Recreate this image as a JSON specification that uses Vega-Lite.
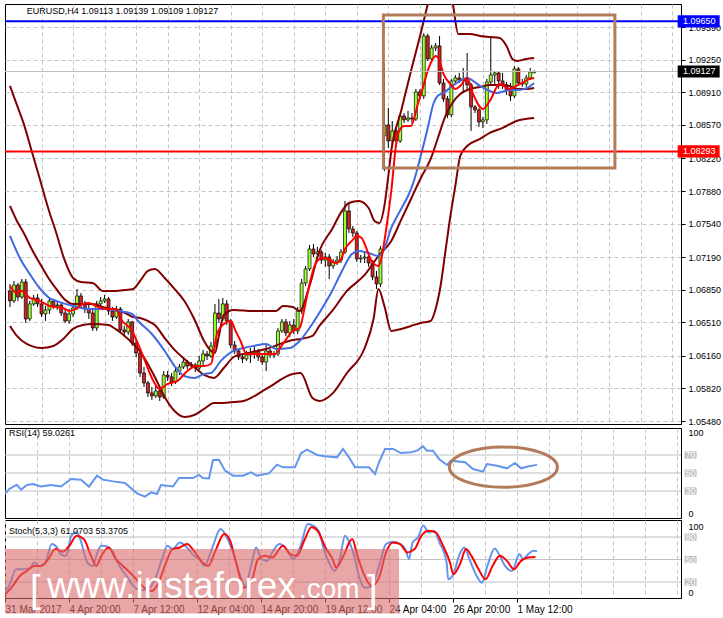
{
"$schema": "https://vega.github.io/schema/vega-lite/v6.json",
"background": "white",
"padding": {"left": 3, "top": 3, "right": 0, "bottom": 0},
"autosize": {"type": "pad"},
"spacing": 0,
"config": {"view": {"stroke": "black", "strokeWidth": 1}, "font": "Liberation Sans", "axis": {"labelFont": "Liberation Sans", "labelColor": "black", "domainColor": "black", "tickColor": "black", "gridColor": "#C4C4C4", "gridDash": [4, 3], "labelOverlap": false}},
"datasets": {
"candles": [
{"i":0,"o":1.06837,"h":1.06910,"l":1.06670,"c":1.06733},
{"i":1,"o":1.06733,"h":1.06941,"l":1.06712,"c":1.06899},
{"i":2,"o":1.06899,"h":1.06920,"l":1.06733,"c":1.06774},
{"i":3,"o":1.06774,"h":1.06962,"l":1.06754,"c":1.06931},
{"i":4,"o":1.06931,"h":1.06962,"l":1.06503,"c":1.06545},
{"i":5,"o":1.06545,"h":1.06733,"l":1.06524,"c":1.06702},
{"i":6,"o":1.06702,"h":1.06795,"l":1.06681,"c":1.06764},
{"i":7,"o":1.06764,"h":1.06806,"l":1.06670,"c":1.06702},
{"i":8,"o":1.06702,"h":1.06754,"l":1.06565,"c":1.06597},
{"i":9,"o":1.06597,"h":1.06681,"l":1.06524,"c":1.06639},
{"i":10,"o":1.06639,"h":1.06774,"l":1.06597,"c":1.06733},
{"i":11,"o":1.06733,"h":1.06743,"l":1.06649,"c":1.06681},
{"i":12,"o":1.06681,"h":1.06722,"l":1.06639,"c":1.06691},
{"i":13,"o":1.06691,"h":1.06712,"l":1.06576,"c":1.06607},
{"i":14,"o":1.06607,"h":1.06639,"l":1.06503,"c":1.06524},
{"i":15,"o":1.06524,"h":1.06649,"l":1.06493,"c":1.06597},
{"i":16,"o":1.06597,"h":1.06702,"l":1.06565,"c":1.06660},
{"i":17,"o":1.06660,"h":1.06858,"l":1.06639,"c":1.06785},
{"i":18,"o":1.06785,"h":1.06816,"l":1.06670,"c":1.06702},
{"i":19,"o":1.06702,"h":1.06733,"l":1.06607,"c":1.06649},
{"i":20,"o":1.06649,"h":1.06691,"l":1.06545,"c":1.06607},
{"i":21,"o":1.06607,"h":1.06649,"l":1.06420,"c":1.06451},
{"i":22,"o":1.06451,"h":1.06733,"l":1.06420,"c":1.06702},
{"i":23,"o":1.06702,"h":1.06774,"l":1.06670,"c":1.06733},
{"i":24,"o":1.06733,"h":1.06795,"l":1.06712,"c":1.06754},
{"i":25,"o":1.06754,"h":1.06774,"l":1.06587,"c":1.06628},
{"i":26,"o":1.06628,"h":1.06670,"l":1.06524,"c":1.06565},
{"i":27,"o":1.06565,"h":1.06681,"l":1.06545,"c":1.06649},
{"i":28,"o":1.06649,"h":1.06670,"l":1.06399,"c":1.06430},
{"i":29,"o":1.06430,"h":1.06472,"l":1.06357,"c":1.06409},
{"i":30,"o":1.06409,"h":1.06545,"l":1.06378,"c":1.06514},
{"i":31,"o":1.06514,"h":1.06524,"l":1.06263,"c":1.06294},
{"i":32,"o":1.06294,"h":1.06336,"l":1.06148,"c":1.06190},
{"i":33,"o":1.06190,"h":1.06232,"l":1.05940,"c":1.05981},
{"i":34,"o":1.05981,"h":1.06044,"l":1.05835,"c":1.05877},
{"i":35,"o":1.05877,"h":1.05898,"l":1.05731,"c":1.05773},
{"i":36,"o":1.05773,"h":1.05835,"l":1.05700,"c":1.05742},
{"i":37,"o":1.05742,"h":1.05846,"l":1.05721,"c":1.05794},
{"i":38,"o":1.05794,"h":1.05846,"l":1.05689,"c":1.05731},
{"i":39,"o":1.05731,"h":1.06002,"l":1.05710,"c":1.05960},
{"i":40,"o":1.05960,"h":1.06002,"l":1.05898,"c":1.05940},
{"i":41,"o":1.05940,"h":1.05981,"l":1.05846,"c":1.05887},
{"i":42,"o":1.05887,"h":1.06044,"l":1.05867,"c":1.06002},
{"i":43,"o":1.06002,"h":1.06075,"l":1.05960,"c":1.06044},
{"i":44,"o":1.06044,"h":1.06148,"l":1.06023,"c":1.06096},
{"i":45,"o":1.06096,"h":1.06117,"l":1.06023,"c":1.06054},
{"i":46,"o":1.06054,"h":1.06096,"l":1.06033,"c":1.06065},
{"i":47,"o":1.06065,"h":1.06086,"l":1.05992,"c":1.06033},
{"i":48,"o":1.06033,"h":1.06159,"l":1.06013,"c":1.06107},
{"i":49,"o":1.06107,"h":1.06222,"l":1.06065,"c":1.06180},
{"i":50,"o":1.06180,"h":1.06211,"l":1.06117,"c":1.06159},
{"i":51,"o":1.06159,"h":1.06305,"l":1.06138,"c":1.06263},
{"i":52,"o":1.06263,"h":1.06702,"l":1.06242,"c":1.06607},
{"i":53,"o":1.06607,"h":1.06754,"l":1.06503,"c":1.06545},
{"i":54,"o":1.06545,"h":1.06764,"l":1.06524,"c":1.06702},
{"i":55,"o":1.06702,"h":1.06743,"l":1.06482,"c":1.06524},
{"i":56,"o":1.06524,"h":1.06545,"l":1.06242,"c":1.06273},
{"i":57,"o":1.06273,"h":1.06315,"l":1.06180,"c":1.06211},
{"i":58,"o":1.06211,"h":1.06232,"l":1.06117,"c":1.06148},
{"i":59,"o":1.06148,"h":1.06190,"l":1.06086,"c":1.06128},
{"i":60,"o":1.06128,"h":1.06211,"l":1.06107,"c":1.06169},
{"i":61,"o":1.06169,"h":1.06242,"l":1.06086,"c":1.06190},
{"i":62,"o":1.06190,"h":1.06263,"l":1.06128,"c":1.06211},
{"i":63,"o":1.06211,"h":1.06232,"l":1.06107,"c":1.06148},
{"i":64,"o":1.06148,"h":1.06180,"l":1.06065,"c":1.06096},
{"i":65,"o":1.06096,"h":1.06284,"l":1.06002,"c":1.06211},
{"i":66,"o":1.06211,"h":1.06232,"l":1.06138,"c":1.06169},
{"i":67,"o":1.06169,"h":1.06211,"l":1.06138,"c":1.06180},
{"i":68,"o":1.06180,"h":1.06451,"l":1.06159,"c":1.06420},
{"i":69,"o":1.06420,"h":1.06545,"l":1.06399,"c":1.06514},
{"i":70,"o":1.06514,"h":1.06545,"l":1.06368,"c":1.06399},
{"i":71,"o":1.06399,"h":1.06524,"l":1.06357,"c":1.06482},
{"i":72,"o":1.06482,"h":1.06545,"l":1.06388,"c":1.06420},
{"i":73,"o":1.06420,"h":1.06670,"l":1.06388,"c":1.06628},
{"i":74,"o":1.06628,"h":1.06962,"l":1.06597,"c":1.06920},
{"i":75,"o":1.06920,"h":1.07098,"l":1.06889,"c":1.07067},
{"i":76,"o":1.07067,"h":1.07317,"l":1.07046,"c":1.07275},
{"i":77,"o":1.07275,"h":1.07327,"l":1.07192,"c":1.07223},
{"i":78,"o":1.07223,"h":1.07296,"l":1.07171,"c":1.07244},
{"i":79,"o":1.07244,"h":1.07265,"l":1.07119,"c":1.07160},
{"i":80,"o":1.07160,"h":1.07233,"l":1.07088,"c":1.07192},
{"i":81,"o":1.07192,"h":1.07223,"l":1.06962,"c":1.07098},
{"i":82,"o":1.07098,"h":1.07171,"l":1.07067,"c":1.07140},
{"i":83,"o":1.07140,"h":1.07202,"l":1.07108,"c":1.07160},
{"i":84,"o":1.07160,"h":1.07275,"l":1.07129,"c":1.07244},
{"i":85,"o":1.07244,"h":1.07776,"l":1.07223,"c":1.07672},
{"i":86,"o":1.07672,"h":1.07745,"l":1.07442,"c":1.07484},
{"i":87,"o":1.07484,"h":1.07515,"l":1.07400,"c":1.07442},
{"i":88,"o":1.07442,"h":1.07463,"l":1.07140,"c":1.07171},
{"i":89,"o":1.07171,"h":1.07213,"l":1.07129,"c":1.07181},
{"i":90,"o":1.07181,"h":1.07254,"l":1.07129,"c":1.07192},
{"i":91,"o":1.07192,"h":1.07233,"l":1.07088,"c":1.07129},
{"i":92,"o":1.07129,"h":1.07160,"l":1.06952,"c":1.06983},
{"i":93,"o":1.06983,"h":1.07046,"l":1.06858,"c":1.06910},
{"i":94,"o":1.06910,"h":1.07306,"l":1.06879,"c":1.07275},
{"i":95,"o":1.08455,"h":1.09206,"l":1.08089,"c":1.08569},
{"i":96,"o":1.08569,"h":1.08747,"l":1.08329,"c":1.08402},
{"i":97,"o":1.08402,"h":1.08611,"l":1.08340,"c":1.08507},
{"i":98,"o":1.08507,"h":1.08548,"l":1.08371,"c":1.08402},
{"i":99,"o":1.08402,"h":1.08684,"l":1.08381,"c":1.08663},
{"i":100,"o":1.08663,"h":1.08694,"l":1.08590,"c":1.08622},
{"i":101,"o":1.08622,"h":1.08715,"l":1.08601,"c":1.08642},
{"i":102,"o":1.08642,"h":1.08694,"l":1.08590,"c":1.08632},
{"i":103,"o":1.08632,"h":1.08945,"l":1.08611,"c":1.08914},
{"i":104,"o":1.08914,"h":1.08945,"l":1.08841,"c":1.08872},
{"i":105,"o":1.08872,"h":1.09529,"l":1.08841,"c":1.09498},
{"i":106,"o":1.09498,"h":1.09519,"l":1.09237,"c":1.09258},
{"i":107,"o":1.09258,"h":1.09404,"l":1.09216,"c":1.09373},
{"i":108,"o":1.09373,"h":1.09425,"l":1.09341,"c":1.09394},
{"i":109,"o":1.09394,"h":1.09498,"l":1.08987,"c":1.09007},
{"i":110,"o":1.09007,"h":1.09049,"l":1.08809,"c":1.08841},
{"i":111,"o":1.08841,"h":1.08872,"l":1.08642,"c":1.08674},
{"i":112,"o":1.08674,"h":1.09049,"l":1.08653,"c":1.09028},
{"i":113,"o":1.09028,"h":1.09091,"l":1.08997,"c":1.09060},
{"i":114,"o":1.09060,"h":1.09112,"l":1.09008,"c":1.09039},
{"i":115,"o":1.09039,"h":1.09164,"l":1.08903,"c":1.09049},
{"i":116,"o":1.09049,"h":1.09320,"l":1.08924,"c":1.08987},
{"i":117,"o":1.08987,"h":1.09008,"l":1.08507,"c":1.08757},
{"i":118,"o":1.08757,"h":1.08778,"l":1.08694,"c":1.08726},
{"i":119,"o":1.08726,"h":1.08747,"l":1.08548,"c":1.08601},
{"i":120,"o":1.08601,"h":1.08653,"l":1.08538,"c":1.08622},
{"i":121,"o":1.08622,"h":1.09049,"l":1.08580,"c":1.09018},
{"i":122,"o":1.09018,"h":1.09477,"l":1.08987,"c":1.09091},
{"i":123,"o":1.09091,"h":1.09133,"l":1.08976,"c":1.09112},
{"i":124,"o":1.09112,"h":1.09133,"l":1.08945,"c":1.09028},
{"i":125,"o":1.09028,"h":1.09112,"l":1.08945,"c":1.08987},
{"i":126,"o":1.08987,"h":1.09018,"l":1.08883,"c":1.08934},
{"i":127,"o":1.08934,"h":1.09008,"l":1.08820,"c":1.08872},
{"i":128,"o":1.08872,"h":1.09185,"l":1.08851,"c":1.09154},
{"i":129,"o":1.09154,"h":1.09174,"l":1.08976,"c":1.09008},
{"i":130,"o":1.09008,"h":1.09049,"l":1.08966,"c":1.08997},
{"i":131,"o":1.08997,"h":1.09091,"l":1.08966,"c":1.09060},
{"i":132,"o":1.09060,"h":1.09164,"l":1.09039,"c":1.09122},
{"i":133,"o":1.09113,"h":1.09139,"l":1.09109,"c":1.09127}
],
"ub": [
{"i":0,"v":1.08976},{"i":1.75,"v":1.08778},{"i":3.5,"v":1.0858},{"i":5.5,"v":1.08298},{"i":7.5,"v":1.08016},{"i":9.75,"v":1.07693},{"i":11.75,"v":1.07442},{"i":13.75,"v":1.07171},{"i":16,"v":1.06973},{"i":18,"v":1.06931},{"i":21,"v":1.0692},{"i":23.5,"v":1.06837},{"i":26.75,"v":1.06837},{"i":29.25,"v":1.06847},{"i":31.25,"v":1.06858},{"i":33,"v":1.06941},{"i":35,"v":1.07046},{"i":36.75,"v":1.07067},{"i":39.25,"v":1.06973},{"i":41.75,"v":1.06858},{"i":44.25,"v":1.06733},{"i":46.75,"v":1.06545},{"i":49.25,"v":1.06315},{"i":51,"v":1.06211},{"i":52,"v":1.0619},{"i":53,"v":1.06368},{"i":54.25,"v":1.06587},{"i":56.75,"v":1.06639},{"i":61.75,"v":1.06628},{"i":67.5,"v":1.06628},{"i":69.25,"v":1.06681},{"i":71.75,"v":1.0667},{"i":73.5,"v":1.06628},{"i":76,"v":1.06889},{"i":78.5,"v":1.07254},{"i":81.75,"v":1.07484},{"i":84.25,"v":1.07672},{"i":86,"v":1.07755},{"i":88.5,"v":1.07776},{"i":91,"v":1.07703},{"i":92.5,"v":1.07567},{"i":93.75,"v":1.07546},{"i":95,"v":1.07724},{"i":96,"v":1.08037},{"i":96.75,"v":1.08298},{"i":99.25,"v":1.08715},{"i":101.75,"v":1.09133},{"i":104.25,"v":1.09529},{"i":106.25,"v":1.09863},{"i":108,"v":1.10072},{"i":110.5,"v":1.10093},{"i":112.25,"v":1.09863},{"i":113.75,"v":1.09519},{"i":116.75,"v":1.09519},{"i":119.25,"v":1.09498},{"i":121.75,"v":1.09487},{"i":124.25,"v":1.09477},{"i":126,"v":1.09393},{"i":127.5,"v":1.09258},{"i":128.75,"v":1.09237},{"i":131,"v":1.09258},{"i":133,"v":1.09268}
],
"lb": [
{"i":0,"v":1.06472},{"i":1.75,"v":1.06368},{"i":4.25,"v":1.06284},{"i":8,"v":1.06242},{"i":11,"v":1.06263},{"i":13.5,"v":1.06336},{"i":16,"v":1.06441},{"i":18.5,"v":1.06482},{"i":21,"v":1.06493},{"i":25,"v":1.06482},{"i":26.75,"v":1.06441},{"i":28.5,"v":1.06388},{"i":30.5,"v":1.06315},{"i":32.5,"v":1.06232},{"i":34.25,"v":1.06128},{"i":36.75,"v":1.0594},{"i":39.25,"v":1.05731},{"i":41.75,"v":1.05585},{"i":44.25,"v":1.05523},{"i":46.75,"v":1.05543},{"i":49.25,"v":1.05606},{"i":51.75,"v":1.05669},{"i":54.25,"v":1.05669},{"i":56.75,"v":1.05679},{"i":59.25,"v":1.05689},{"i":65,"v":1.05815},{"i":71.75,"v":1.05971},{"i":73.75,"v":1.05981},{"i":76.75,"v":1.05721},{"i":78.5,"v":1.05689},{"i":81.75,"v":1.05763},{"i":85.5,"v":1.05981},{"i":90,"v":1.06242},{"i":92.25,"v":1.06545},{"i":93.5,"v":1.06858},{"i":95,"v":1.06681},{"i":96.75,"v":1.0642},{"i":99.25,"v":1.06441},{"i":101.75,"v":1.06472},{"i":104.25,"v":1.06503},{"i":106.75,"v":1.06524},{"i":108,"v":1.06649},{"i":109.25,"v":1.06889},{"i":110.5,"v":1.07254},{"i":111.75,"v":1.07619},{"i":113,"v":1.07932},{"i":114.25,"v":1.08245},{"i":116,"v":1.0835},{"i":119.25,"v":1.08423},{"i":121.75,"v":1.08486},{"i":125,"v":1.08538},{"i":128.5,"v":1.08611},{"i":133,"v":1.08642}
],
"mb": [
{"i":0,"v":1.07724},{"i":1.75,"v":1.07567},{"i":3.5,"v":1.07442},{"i":5.5,"v":1.07275},{"i":7.5,"v":1.07129},{"i":9.75,"v":1.06973},{"i":11.75,"v":1.06858},{"i":13.75,"v":1.06754},{"i":16,"v":1.06702},{"i":21,"v":1.06702},{"i":23.5,"v":1.0667},{"i":26.75,"v":1.06639},{"i":29.25,"v":1.06607},{"i":31.25,"v":1.06565},{"i":33,"v":1.06555},{"i":35,"v":1.06524},{"i":36.75,"v":1.06482},{"i":39.25,"v":1.06346},{"i":41.75,"v":1.06222},{"i":44.25,"v":1.06128},{"i":46.75,"v":1.06044},{"i":49.25,"v":1.05961},{"i":51.75,"v":1.0593},{"i":54.25,"v":1.06033},{"i":56.75,"v":1.06148},{"i":59.25,"v":1.0618},{"i":65,"v":1.06232},{"i":71.75,"v":1.06326},{"i":73.75,"v":1.06336},{"i":76.75,"v":1.06368},{"i":78.5,"v":1.06472},{"i":81.75,"v":1.06628},{"i":85.5,"v":1.06837},{"i":90,"v":1.07004},{"i":93.5,"v":1.07202},{"i":96.75,"v":1.07359},{"i":99.25,"v":1.07578},{"i":101.75,"v":1.07797},{"i":104.25,"v":1.08016},{"i":106.75,"v":1.08214},{"i":108.5,"v":1.08423},{"i":110.5,"v":1.08663},{"i":112.25,"v":1.08799},{"i":114.25,"v":1.08893},{"i":116.75,"v":1.08945},{"i":119.25,"v":1.08966},{"i":121.75,"v":1.08987},{"i":124.25,"v":1.08987},{"i":126.75,"v":1.08976},{"i":128.5,"v":1.08945},{"i":131,"v":1.08945},{"i":133,"v":1.08955}
],
"ma": [
{"i":0,"v":1.07411},{"i":2.5,"v":1.07181},{"i":5,"v":1.07015},{"i":7.5,"v":1.06868},{"i":10,"v":1.06764},{"i":11.75,"v":1.06733},{"i":16,"v":1.06681},{"i":20,"v":1.06649},{"i":24.25,"v":1.06649},{"i":27.5,"v":1.06628},{"i":31,"v":1.06597},{"i":32.5,"v":1.06524},{"i":36,"v":1.06388},{"i":39.25,"v":1.06211},{"i":41.75,"v":1.06054},{"i":44.25,"v":1.0595},{"i":46.75,"v":1.05929},{"i":49.25,"v":1.05971},{"i":51,"v":1.05981},{"i":53.5,"v":1.06107},{"i":56.75,"v":1.06211},{"i":59.25,"v":1.06242},{"i":61.75,"v":1.06263},{"i":65,"v":1.06284},{"i":67.5,"v":1.06232},{"i":71,"v":1.06242},{"i":73.5,"v":1.06315},{"i":76,"v":1.06451},{"i":79.25,"v":1.0666},{"i":81.75,"v":1.06837},{"i":84.25,"v":1.07046},{"i":86.75,"v":1.07223},{"i":88.5,"v":1.07254},{"i":91,"v":1.07233},{"i":93.5,"v":1.07202},{"i":94.75,"v":1.07254},{"i":96.75,"v":1.07494},{"i":99.25,"v":1.07693},{"i":101,"v":1.07828},{"i":102.5,"v":1.07985},{"i":104.25,"v":1.0825},{"i":106,"v":1.08538},{"i":107.5,"v":1.08798},{"i":108.5,"v":1.08872},{"i":110,"v":1.08903},{"i":112.25,"v":1.08976},{"i":114.25,"v":1.09028},{"i":116,"v":1.0906},{"i":116.75,"v":1.09049},{"i":119.25,"v":1.08976},{"i":121.75,"v":1.08924},{"i":123.5,"v":1.08903},{"i":126.75,"v":1.08934},{"i":129.25,"v":1.08934},{"i":131.25,"v":1.08955},{"i":133,"v":1.09007}
],
"mr": [
{"i":0,"v":1.06889},{"i":1.75,"v":1.06816},{"i":3,"v":1.06837},{"i":5,"v":1.06764},{"i":7.5,"v":1.06733},{"i":10,"v":1.06681},{"i":13.5,"v":1.0666},{"i":15,"v":1.06628},{"i":16.75,"v":1.06649},{"i":18.5,"v":1.06702},{"i":20,"v":1.06712},{"i":21.75,"v":1.06681},{"i":24.25,"v":1.06649},{"i":26.75,"v":1.06649},{"i":28.5,"v":1.06524},{"i":31,"v":1.0642},{"i":32.5,"v":1.06284},{"i":34.25,"v":1.06107},{"i":36,"v":1.05929},{"i":38,"v":1.05815},{"i":40,"v":1.05867},{"i":42.5,"v":1.05898},{"i":45,"v":1.06002},{"i":47.25,"v":1.06054},{"i":49.25,"v":1.06054},{"i":51,"v":1.06075},{"i":52.5,"v":1.06388},{"i":54.25,"v":1.06493},{"i":56,"v":1.06524},{"i":57.25,"v":1.0642},{"i":58.5,"v":1.06315},{"i":60,"v":1.0618},{"i":65,"v":1.0618},{"i":67.25,"v":1.0618},{"i":69.25,"v":1.06284},{"i":71.75,"v":1.0642},{"i":73.5,"v":1.06451},{"i":74.75,"v":1.0666},{"i":76,"v":1.0691},{"i":77.5,"v":1.07119},{"i":79.25,"v":1.07181},{"i":81,"v":1.07171},{"i":82.5,"v":1.07129},{"i":83.75,"v":1.0715},{"i":85,"v":1.07275},{"i":86.75,"v":1.07359},{"i":88,"v":1.07411},{"i":89.25,"v":1.0739},{"i":90,"v":1.07327},{"i":91.75,"v":1.0715},{"i":93.5,"v":1.07098},{"i":94.25,"v":1.07181},{"i":95.5,"v":1.07494},{"i":96.75,"v":1.0788},{"i":98,"v":1.08371},{"i":98.75,"v":1.08507},{"i":100,"v":1.08559},{"i":101.75,"v":1.08559},{"i":103.5,"v":1.08788},{"i":104.75,"v":1.08955},{"i":106.25,"v":1.09164},{"i":108,"v":1.09289},{"i":108.75,"v":1.09268},{"i":110,"v":1.09101},{"i":111.75,"v":1.08997},{"i":113,"v":1.08945},{"i":114.25,"v":1.08976},{"i":116,"v":1.0906},{"i":117.5,"v":1.08893},{"i":120,"v":1.08736},{"i":121.75,"v":1.0882},{"i":124.25,"v":1.08997},{"i":126.75,"v":1.08945},{"i":128.5,"v":1.08976},{"i":130,"v":1.09007},{"i":131.75,"v":1.09049},{"i":133,"v":1.0906}
],
"rsi": [
{"i":0,"v":26.7},{"i":1,"v":32},{"i":2.5,"v":36},{"i":3,"v":36.7},{"i":4,"v":31.5},{"i":5.5,"v":36.7},{"i":7,"v":37.8},{"i":9,"v":35},{"i":11.5,"v":36.7},{"i":14,"v":35},{"i":16.5,"v":43.3},{"i":19,"v":42.6},{"i":21,"v":34.8},{"i":23,"v":47},{"i":24.5,"v":42.6},{"i":27,"v":40.7},{"i":30,"v":38.9},{"i":33,"v":27.4},{"i":35,"v":23.7},{"i":36.5,"v":28.5},{"i":38,"v":26.7},{"i":39,"v":36.7},{"i":42,"v":35},{"i":43.5,"v":44.4},{"i":47,"v":44.4},{"i":48.5,"v":47.8},{"i":49.5,"v":44.4},{"i":51,"v":44},{"i":52,"v":64.4},{"i":53.5,"v":64.8},{"i":55,"v":52.6},{"i":57,"v":47},{"i":59.5,"v":47},{"i":61.5,"v":50.7},{"i":63,"v":47},{"i":66,"v":49.6},{"i":68,"v":59.3},{"i":69.5,"v":56.3},{"i":72.5,"v":56.3},{"i":74,"v":71.9},{"i":75.5,"v":76},{"i":78,"v":70},{"i":80,"v":68.5},{"i":83,"v":67.4},{"i":84.5,"v":76.7},{"i":86,"v":67.4},{"i":87.5,"v":56.3},{"i":91,"v":56.3},{"i":92.5,"v":48.9},{"i":93.5,"v":61.9},{"i":95,"v":76.7},{"i":97,"v":76.7},{"i":99,"v":72.2},{"i":101.5,"v":73},{"i":103,"v":74.8},{"i":104.5,"v":79.6},{"i":105.5,"v":74.8},{"i":107,"v":74.8},{"i":108.5,"v":65.6},{"i":110.5,"v":58.9},{"i":111.5,"v":63.7},{"i":115,"v":61.9},{"i":117,"v":54.4},{"i":119.5,"v":51.5},{"i":120.5,"v":60},{"i":123,"v":58.1},{"i":125.5,"v":55.2},{"i":127.5,"v":61.1},{"i":129,"v":55.2},{"i":131,"v":57.4},{"i":133,"v":59.03}
],
"sk": [
{"i":0,"v":7.9},{"i":1,"v":14.6},{"i":2.8,"v":37},{"i":4.6,"v":37},{"i":6.4,"v":39.3},{"i":7.3,"v":46},{"i":8.6,"v":41.5},{"i":9.9,"v":43.7},{"i":11.7,"v":70.6},{"i":13,"v":66.1},{"i":13.9,"v":57.2},{"i":15.25,"v":54.9},{"i":16.6,"v":81.8},{"i":17.9,"v":86.3},{"i":18.8,"v":77.3},{"i":20.6,"v":46},{"i":21.9,"v":41.5},{"i":23.25,"v":61.6},{"i":24.1,"v":68.4},{"i":25.5,"v":67.5},{"i":26.8,"v":61.6},{"i":28.6,"v":41.5},{"i":30.4,"v":28.1},{"i":32.1,"v":14.6},{"i":33.9,"v":9.2},{"i":35.7,"v":10.1},{"i":37.5,"v":23.6},{"i":39.25,"v":50.4},{"i":40.6,"v":68.4},{"i":41.9,"v":63.9},{"i":43.7,"v":72.8},{"i":45.5,"v":66.1},{"i":47.25,"v":54.9},{"i":48.6,"v":50.4},{"i":49.9,"v":41.5},{"i":51.7,"v":63.9},{"i":53.9,"v":90.7},{"i":55.25,"v":81.8},{"i":57,"v":59.4},{"i":58.8,"v":28.1},{"i":60.1,"v":14.6},{"i":61.5,"v":41.5},{"i":62.8,"v":66.1},{"i":64.1,"v":50.4},{"i":65.5,"v":48.2},{"i":66.8,"v":59.4},{"i":68.6,"v":70.6},{"i":70.4,"v":63.9},{"i":72.1,"v":50.4},{"i":73.9,"v":68.4},{"i":75.7,"v":97.5},{"i":77,"v":95.2},{"i":78.4,"v":88.5},{"i":79.7,"v":63.9},{"i":81,"v":46},{"i":82.4,"v":34.8},{"i":83.7,"v":50.4},{"i":85,"v":81.8},{"i":85.9,"v":75.1},{"i":87.3,"v":54.9},{"i":88.6,"v":25.8},{"i":89.9,"v":12.4},{"i":91.7,"v":14.6},{"i":93.5,"v":41.5},{"i":95.25,"v":70.6},{"i":97,"v":73.7},{"i":98.8,"v":70.6},{"i":100.1,"v":63.9},{"i":101,"v":50.4},{"i":101.9,"v":72.8},{"i":103.25,"v":79.6},{"i":104.6,"v":95.2},{"i":105.9,"v":86.3},{"i":107.25,"v":88.5},{"i":108.6,"v":72.8},{"i":110.4,"v":46},{"i":110.8,"v":23.6},{"i":112.1,"v":30.3},{"i":113.5,"v":54.9},{"i":114.8,"v":66.1},{"i":116.1,"v":50.4},{"i":117.5,"v":32.5},{"i":119.25,"v":19.1},{"i":120.6,"v":41.5},{"i":122.4,"v":64.8},{"i":123.7,"v":54.9},{"i":125,"v":41.5},{"i":126.8,"v":34.8},{"i":128.6,"v":57.2},{"i":129.5,"v":50.4},{"i":130.8,"v":57.2},{"i":132.1,"v":61.6},{"i":133,"v":61.07}
],
"sd": [
{"i":0,"v":3.4},{"i":1.9,"v":14.6},{"i":3.7,"v":28.1},{"i":5.5,"v":34.8},{"i":7.25,"v":41.5},{"i":9,"v":41.5},{"i":10.8,"v":50.4},{"i":12.6,"v":63.9},{"i":14.4,"v":60.3},{"i":16.1,"v":68.4},{"i":17.9,"v":81.8},{"i":19.7,"v":77.3},{"i":21.5,"v":54.9},{"i":22.8,"v":41.5},{"i":24.1,"v":54.9},{"i":25.9,"v":66.1},{"i":27.7,"v":50.4},{"i":29.5,"v":41.5},{"i":32.1,"v":28.1},{"i":34.8,"v":12.4},{"i":36.6,"v":7.9},{"i":38.4,"v":19.1},{"i":40.1,"v":43.7},{"i":41.9,"v":63.9},{"i":43.7,"v":66.1},{"i":45.5,"v":70.6},{"i":47.25,"v":61.6},{"i":49,"v":48.2},{"i":50.8,"v":41.5},{"i":52.6,"v":61.6},{"i":54.8,"v":84},{"i":56.1,"v":77.3},{"i":57.9,"v":43.7},{"i":59.7,"v":12.4},{"i":61.5,"v":19.1},{"i":63.25,"v":50.4},{"i":65,"v":54.9},{"i":66.8,"v":52.7},{"i":69.5,"v":68.4},{"i":71.25,"v":57.2},{"i":73,"v":54.9},{"i":74.8,"v":75.1},{"i":76.6,"v":93},{"i":78.4,"v":86.3},{"i":80.1,"v":66.1},{"i":81.9,"v":50.4},{"i":82.8,"v":39.3},{"i":84.6,"v":54.9},{"i":86.8,"v":77.3},{"i":88.1,"v":54.9},{"i":89.9,"v":28.1},{"i":91.7,"v":14.6},{"i":93.5,"v":25.8},{"i":95.25,"v":59.4},{"i":97,"v":72.8},{"i":98.8,"v":70.6},{"i":100.6,"v":59.4},{"i":102.4,"v":63.9},{"i":104.1,"v":81.8},{"i":105.9,"v":88.5},{"i":107.7,"v":86.3},{"i":109.5,"v":68.4},{"i":111.25,"v":46},{"i":112.1,"v":30.3},{"i":113.9,"v":46},{"i":115.25,"v":63.9},{"i":116.6,"v":54.9},{"i":118.4,"v":37},{"i":120.1,"v":23.6},{"i":121.9,"v":41.5},{"i":123.7,"v":54.9},{"i":125.5,"v":48.2},{"i":127.25,"v":37},{"i":129,"v":48.2},{"i":130.8,"v":52.7},{"i":132.6,"v":53.37}
],
"rsilev": [{"lv": 70}, {"lv": 50}, {"lv": 30}],
"stlev": [{"lv": 80}, {"lv": 50}, {"lv": 20}],
"one": [{}]
},
"vconcat": [
{
"width": 676, "height": 420,
"layer": [
{"data": {"name": "candles"}, "mark": {"type": "rule", "color": "black", "strokeWidth": 1, "clip": true},
 "encoding": {
  "x": {"field": "i", "type": "quantitative", "title": null, "scale": {"domain": [0, 169], "nice": false, "zero": false},
        "axis": {"orient": "bottom", "values": [8,16,24,32,40,48,56,64,72,80,88,96,104,112,120,128,136,144,152,160,168], "tickCount": 40, "grid": true, "labels": false, "ticks": false, "domain": false}},
  "y": {"field": "l", "type": "quantitative", "title": null, "scale": {"domain": [1.054489, 1.098312], "nice": false, "zero": false},
        "axis": {"orient": "right", "values": [1.0959,1.0925,1.0891,1.0857,1.0822,1.0788,1.0754,1.0719,1.0685,1.0651,1.0616,1.0582,1.0548], "tickCount": 30, "format": ".5f", "grid": true, "tickSize": 4, "labelPadding": 3, "labelFontSize": 9, "labelBaseline": "middle", "labelOverlap": false}},
  "y2": {"field": "h"}
 }},
{"data": {"name": "candles"}, "mark": {"type": "bar", "width": 3, "stroke": "black", "strokeWidth": 0.7, "clip": true},
 "encoding": {
  "x": {"field": "i", "type": "quantitative", "title": null},
  "y": {"field": "o", "type": "quantitative", "title": null},
  "y2": {"field": "c"},
  "fill": {"condition": {"test": "datum.c >= datum.o", "value": "#9CFF2E"}, "value": "#D42020"}
 }},
{"data": {"name": "ub"}, "mark": {"type": "line", "color": "#800000", "strokeWidth": 2, "clip": true, "interpolate": "monotone"},
 "encoding": {"x": {"field": "i", "type": "quantitative", "title": null}, "y": {"field": "v", "type": "quantitative", "title": null}}},
{"data": {"name": "mb"}, "mark": {"type": "line", "color": "#800000", "strokeWidth": 2, "clip": true, "interpolate": "monotone"},
 "encoding": {"x": {"field": "i", "type": "quantitative", "title": null}, "y": {"field": "v", "type": "quantitative", "title": null}}},
{"data": {"name": "lb"}, "mark": {"type": "line", "color": "#800000", "strokeWidth": 2, "clip": true, "interpolate": "monotone"},
 "encoding": {"x": {"field": "i", "type": "quantitative", "title": null}, "y": {"field": "v", "type": "quantitative", "title": null}}},
{"data": {"name": "ma"}, "mark": {"type": "line", "color": "#4169E1", "strokeWidth": 2, "clip": true, "interpolate": "monotone"},
 "encoding": {"x": {"field": "i", "type": "quantitative", "title": null}, "y": {"field": "v", "type": "quantitative", "title": null}}},
{"data": {"name": "mr"}, "mark": {"type": "line", "color": "#FF0000", "strokeWidth": 2, "clip": true, "interpolate": "monotone"},
 "encoding": {"x": {"field": "i", "type": "quantitative", "title": null}, "y": {"field": "v", "type": "quantitative", "title": null}}},
{"data": {"name": "one"}, "mark": {"type": "rule", "color": "#C0C0C0", "strokeWidth": 1}, "encoding": {"y": {"datum": 1.09127}}},
{"data": {"name": "one"}, "mark": {"type": "rule", "color": "#0000FF", "strokeWidth": 2}, "encoding": {"y": {"datum": 1.0965}}},
{"data": {"name": "one"}, "mark": {"type": "rule", "color": "#FF0000", "strokeWidth": 2}, "encoding": {"y": {"datum": 1.08293}}},
{"data": {"name": "one"}, "mark": {"type": "rect", "fill": null, "fillOpacity": 0, "stroke": "#B27B5A", "strokeWidth": 3},
 "encoding": {"x": {"datum": 94.75}, "x2": {"datum": 153.5}, "y": {"datum": 1.09717}, "y2": {"datum": 1.0812}}},
{"data": {"name": "one"}, "mark": {"type": "point", "shape": "M-1,-0.29H1V0.29H-1Z", "size": 1764, "filled": true, "color": "#0000FF", "opacity": 1},
 "encoding": {"x": {"datum": 174.75}, "y": {"datum": 1.0965}}},
{"data": {"name": "one"}, "mark": {"type": "point", "shape": "M-1,-0.29H1V0.29H-1Z", "size": 1764, "filled": true, "color": "#000000", "opacity": 1},
 "encoding": {"x": {"datum": 174.75}, "y": {"datum": 1.09127}}},
{"data": {"name": "one"}, "mark": {"type": "point", "shape": "M-1,-0.29H1V0.29H-1Z", "size": 1764, "filled": true, "color": "#FF0000", "opacity": 1},
 "encoding": {"x": {"datum": 174.75}, "y": {"datum": 1.08293}}},
{"data": {"name": "one"}, "mark": {"type": "text", "text": "1.09650", "color": "white", "font": "Liberation Sans", "fontSize": 9, "align": "left", "baseline": "middle"},
 "encoding": {"x": {"datum": 170.8}, "y": {"datum": 1.0965}}},
{"data": {"name": "one"}, "mark": {"type": "text", "text": "1.09127", "color": "white", "font": "Liberation Sans", "fontSize": 9, "align": "left", "baseline": "middle"},
 "encoding": {"x": {"datum": 170.8}, "y": {"datum": 1.09127}}},
{"data": {"name": "one"}, "mark": {"type": "text", "text": "1.08293", "color": "white", "font": "Liberation Sans", "fontSize": 9, "align": "left", "baseline": "middle"},
 "encoding": {"x": {"datum": 170.8}, "y": {"datum": 1.08293}}},
{"data": {"name": "one"}, "mark": {"type": "text", "text": "EURUSD,H4  1.09113 1.09139 1.09109 1.09127", "color": "black", "font": "Liberation Sans", "fontSize": 9, "align": "left", "baseline": "middle"},
 "encoding": {"x": {"datum": 4.25}, "y": {"datum": 1.09754}}}
]
},
{
"width": 676, "height": 90,
"layer": [
{"data": {"name": "rsilev"}, "mark": {"type": "rule", "color": "#C0C0C0", "strokeWidth": 1},
 "encoding": {"y": {"field": "lv", "type": "quantitative", "title": null, "scale": {"domain": [0, 100], "nice": false, "zero": false},
   "axis": {"orient": "right", "values": [0, 100], "grid": false, "ticks": false, "labelPadding": 7, "labelFontSize": 9, "labelFlush": true, "labelOverlap": false}}}},
{"data": {"name": "rsi"}, "mark": {"type": "line", "color": "#6495ED", "strokeWidth": 2, "clip": true},
 "encoding": {
  "x": {"field": "i", "type": "quantitative", "title": null, "scale": {"domain": [0, 169], "nice": false, "zero": false},
        "axis": {"orient": "bottom", "values": [8,16,24,32,40,48,56,64,72,80,88,96,104,112,120,128,136,144,152,160,168], "tickCount": 40, "grid": true, "labels": false, "ticks": false, "domain": false}},
  "y": {"field": "v", "type": "quantitative", "title": null}}},
{"data": {"name": "one"}, "mark": {"type": "point", "shape": "M-1,0A1,0.373,0,1,0,1,0A1,0.373,0,1,0,-1,0Z", "size": 11664, "filled": false, "stroke": "#B27B5A", "strokeWidth": 3, "opacity": 1},
 "encoding": {"x": {"datum": 124.6}, "y": {"datum": 56.5}}},
{"data": {"name": "rsilev"}, "mark": {"type": "point", "shape": "M-1,-0.6H1V0.6H-1Z", "size": 144, "filled": true, "color": "#C0C0C0", "opacity": 1},
 "encoding": {"x": {"datum": 171.4}, "y": {"field": "lv", "type": "quantitative", "title": null}}},
{"data": {"name": "rsilev"}, "mark": {"type": "text", "color": "white", "font": "Liberation Sans", "fontSize": 9, "align": "center", "baseline": "middle"},
 "encoding": {"x": {"datum": 171.4}, "y": {"field": "lv", "type": "quantitative", "title": null}, "text": {"field": "lv"}}},
{"data": {"name": "one"}, "mark": {"type": "text", "text": "RSI(14) 59.0261", "color": "black", "font": "Liberation Sans", "fontSize": 9, "align": "left", "baseline": "middle"},
 "encoding": {"x": {"datum": 1}, "y": {"datum": 94}}}
]
},
{
"width": 676, "height": 78,
"layer": [
{"data": {"name": "stlev"}, "mark": {"type": "rule", "color": "#C0C0C0", "strokeWidth": 1},
 "encoding": {"y": {"field": "lv", "type": "quantitative", "title": null, "scale": {"domain": [-1.3, 102.7], "nice": false, "zero": false},
   "axis": {"orient": "right", "values": [0, 100], "grid": false, "ticks": false, "labelPadding": 7, "labelFontSize": 9, "labelFlush": 5, "labelOverlap": false}}}},
{"data": {"name": "sk"}, "mark": {"type": "line", "color": "#6495ED", "strokeWidth": 2, "clip": true, "interpolate": "monotone"},
 "encoding": {
  "x": {"field": "i", "type": "quantitative", "title": null, "scale": {"domain": [0, 169], "nice": false, "zero": false},
        "axis": {"orient": "bottom", "values": [0,8,16,24,32,40,48,56,64,72,80,88,96,104,112,120,128,136,144,152,160,168], "tickCount": 40, "grid": true, "domain": false, "tickSize": 4, "labelOverlap": false,
                 "tickOpacity": {"condition": {"test": "datum.value % 16 == 0 && datum.value <= 128", "value": 1}, "value": 0},
                 "labelAlign": "left", "labelBaseline": "top", "labelPadding": 2, "labelFontSize": 10,
                 "labelExpr": "datum.value==0?'31 Mar 2017':datum.value==16?'4 Apr 20:00':datum.value==32?'7 Apr 12:00':datum.value==48?'12 Apr 04:00':datum.value==64?'14 Apr 20:00':datum.value==80?'19 Apr 12:00':datum.value==96?'24 Apr 04:00':datum.value==112?'26 Apr 20:00':datum.value==128?'1 May 12:00':''"}},
  "y": {"field": "v", "type": "quantitative", "title": null}}},
{"data": {"name": "sd"}, "mark": {"type": "line", "color": "#FF0000", "strokeWidth": 2, "clip": true, "interpolate": "monotone"},
 "encoding": {"x": {"field": "i", "type": "quantitative", "title": null}, "y": {"field": "v", "type": "quantitative", "title": null}}},
{"data": {"name": "one"}, "mark": {"type": "rect", "color": "#DA6A6A", "opacity": 0.6},
 "encoding": {"x": {"datum": 0}, "x2": {"datum": 98.5}, "y": {"datum": 64}, "y2": {"datum": -22}}},
{"data": {"name": "one"}, "mark": {"type": "text", "text": "www.instaforex", "color": "white", "font": "Liberation Sans", "fontSize": 37, "align": "left", "baseline": "alphabetic"},
 "encoding": {"x": {"datum": 10.5}, "y": {"datum": -1.3}}},
{"data": {"name": "one"}, "mark": {"type": "text", "text": ".com", "color": "white", "font": "Liberation Sans", "fontSize": 28, "align": "left", "baseline": "alphabetic"},
 "encoding": {"x": {"datum": 73.5}, "y": {"datum": -1.3}}},
{"data": {"name": "one"}, "mark": {"type": "text", "text": "[", "color": "white", "font": "Liberation Sans", "fontSize": 38, "align": "left", "baseline": "alphabetic"},
 "encoding": {"x": {"datum": 6.25}, "y": {"datum": -6}}},
{"data": {"name": "one"}, "mark": {"type": "text", "text": "]", "color": "white", "font": "Liberation Sans", "fontSize": 38, "align": "left", "baseline": "alphabetic"},
 "encoding": {"x": {"datum": 90.5}, "y": {"datum": -6}}},
{"data": {"name": "stlev"}, "mark": {"type": "point", "shape": "M-1,-0.6H1V0.6H-1Z", "size": 144, "filled": true, "color": "#C0C0C0", "opacity": 1},
 "encoding": {"x": {"datum": 171.4}, "y": {"field": "lv", "type": "quantitative", "title": null}}},
{"data": {"name": "stlev"}, "mark": {"type": "text", "color": "white", "font": "Liberation Sans", "fontSize": 9, "align": "center", "baseline": "middle"},
 "encoding": {"x": {"datum": 171.4}, "y": {"field": "lv", "type": "quantitative", "title": null}, "text": {"field": "lv"}}},
{"data": {"name": "one"}, "mark": {"type": "text", "text": "Stoch(5,3,3) 61.0703 53.3705", "color": "black", "font": "Liberation Sans", "fontSize": 9, "align": "left", "baseline": "middle"},
 "encoding": {"x": {"datum": 1}, "y": {"datum": 88}}}
]
}
]
}
